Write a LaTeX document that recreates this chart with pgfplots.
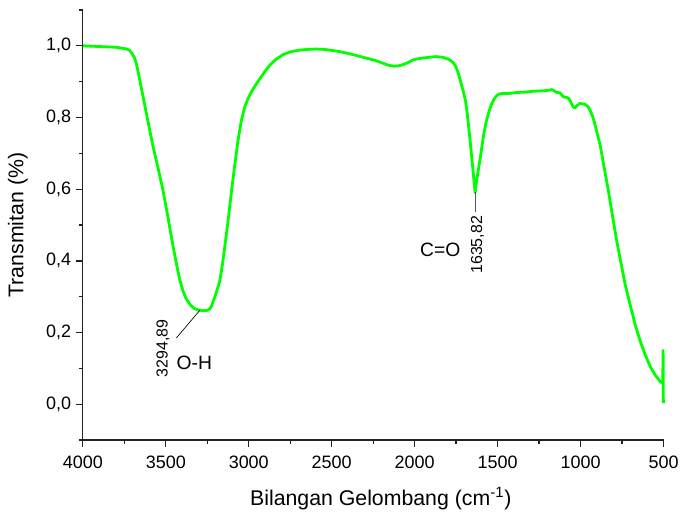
\documentclass[border=0pt]{standalone}
\usepackage{pgfplots}
\pgfplotsset{compat=1.18}
\usepackage{fontspec}
\setmainfont{Liberation Sans}
\definecolor{ftirgreen}{HTML}{00FF00}
\definecolor{axisdark}{HTML}{222222}

\begin{document}
\begin{tikzpicture}
\begin{axis}[
    scale only axis,
    width=436.5pt, height=323.25pt,
    x dir=reverse,
    xmin=500, xmax=4000,
    ymin=-0.1, ymax=1.1,
    axis lines=left,
    axis line style={-, axisdark, line width=1pt},
    tick style={axisdark, line width=1pt},
    tick align=outside,
    major tick length=5.25pt,
    minor tick length=3pt,
    xtick={500,1000,...,4000},
    minor xtick={750,1250,...,3750},
    ytick={0,0.2,...,1.0},
    minor ytick={-0.1,0.1,0.3,0.5,0.7,0.9,1.1},
    /pgf/number format/assume math mode=true,
    tick label style={font=\fontsize{13.5}{16}\selectfont},
    xticklabel style={/pgf/number format/1000 sep={}, yshift=-3.5pt},
    yticklabel style={/pgf/number format/.cd, fixed, fixed zerofill, precision=1, use comma},
    xlabel={Bilangan Gelombang (cm\textsuperscript{-1})},
    ylabel={Transmitan (\%)},
    label style={font=\fontsize{16}{19}\selectfont},
    x label style={at={(rel axis cs:0.513,-0.1524)}, anchor=base},
    y label style={at={(rel axis cs:-0.1022,0.5)}, anchor=base, rotate=0},
    clip=false,
]
\addplot[color=ftirgreen, line width=2.1pt, line join=round] coordinates {
(4000,1.000) (3950,0.999) (3900,0.998) (3850,0.997) (3800,0.996) (3760,0.993)
(3735,0.991) (3720,0.988) (3705,0.980) (3690,0.968) (3677,0.950) (3660,0.912)
(3637,0.859) (3610,0.795) (3577,0.720) (3547,0.660) (3517,0.598) (3487,0.522)
(3457,0.443) (3437,0.395) (3417,0.350) (3397,0.317) (3377,0.294) (3350,0.276)
(3327,0.267) (3305,0.263) (3290,0.262) (3270,0.261) (3250,0.262) (3235,0.266)
(3225,0.273) (3216,0.285) (3200,0.305) (3176,0.341) (3160,0.385) (3146,0.433)
(3125,0.510) (3105,0.590) (3085,0.665) (3065,0.735) (3045,0.790) (3025,0.828)
(3005,0.852) (2980,0.875) (2955,0.893) (2936,0.906) (2900,0.930) (2875,0.945)
(2840,0.961) (2795,0.975) (2750,0.983) (2695,0.988) (2645,0.990) (2595,0.991)
(2545,0.990) (2495,0.987) (2444,0.983) (2394,0.978) (2344,0.972) (2294,0.966)
(2244,0.960) (2194,0.952) (2160,0.946) (2124,0.943) (2100,0.944) (2074,0.947)
(2040,0.953) (2014,0.960) (1990,0.963) (1953,0.966) (1910,0.968) (1873,0.970)
(1830,0.968) (1793,0.962) (1770,0.954) (1753,0.943) (1738,0.925) (1723,0.900)
(1708,0.875) (1693,0.845) (1683,0.810) (1673,0.767) (1663,0.722) (1653,0.674)
(1644,0.630) (1636,0.590) (1628,0.620) (1615,0.658) (1603,0.692) (1593,0.725)
(1583,0.755) (1568,0.790) (1553,0.815) (1538,0.836) (1523,0.850) (1508,0.860)
(1490,0.866) (1470,0.867) (1450,0.867) (1432,0.867) (1400,0.869) (1372,0.870)
(1330,0.871) (1292,0.873) (1250,0.874) (1210,0.875) (1192,0.876) (1172,0.878)
(1158,0.874) (1145,0.870) (1125,0.869) (1112,0.862) (1100,0.857) (1085,0.856)
(1071,0.853) (1058,0.842) (1045,0.830) (1035,0.827) (1020,0.834) (1005,0.839)
(988,0.838) (971,0.836) (955,0.830) (941,0.818) (925,0.800) (911,0.776)
(896,0.748) (881,0.720) (856,0.655) (831,0.591) (806,0.520) (781,0.452)
(755,0.390) (730,0.331) (700,0.275) (670,0.220) (640,0.175) (610,0.137)
(580,0.105) (550,0.081) (535,0.072) (520,0.063) (510,0.060) (505,0.062)
(503,0.150) (502,0.030) (501,0.003)
};
% annotations
\draw[black, line width=0.5pt] (axis cs:3295,0.262) -- (axis cs:3436,0.185);
\node[rotate=90, anchor=base east, inner sep=0pt, font=\fontsize{12}{14}\selectfont]
  at (axis cs:3489,0.237) {3294,89};
\node[anchor=base west, inner sep=0pt, font=\fontsize{14.5}{17}\selectfont]
  at (axis cs:3436,0.097) {O-H};
\draw[black!65, line width=0.6pt] (axis cs:1636,0.591) -- (axis cs:1636,0.535);
\node[rotate=90, anchor=base east, inner sep=0pt, font=\fontsize{12}{14}\selectfont]
  at (axis cs:1594,0.526) {1635,82};
\node[anchor=base west, inner sep=0pt, font=\fontsize{14.5}{17}\selectfont]
  at (axis cs:1969,0.413) {C=O};
% page frame matching the reference extent
\path (rel axis cs:-0.1426,-0.1601) rectangle (rel axis cs:1.0309,1.0232);
\end{axis}
\end{tikzpicture}
\end{document}
